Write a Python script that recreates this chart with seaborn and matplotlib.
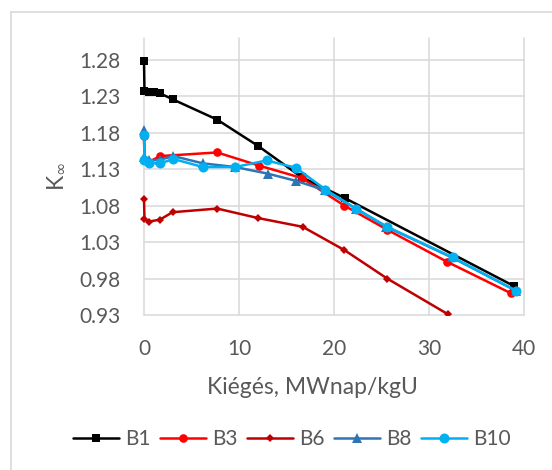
import matplotlib
matplotlib.use("Agg")
import matplotlib.pyplot as plt
from matplotlib.lines import Line2D
from matplotlib.patches import Rectangle
import seaborn as sns
import pandas as pd

# Burnup (MWnap/kgU) and infinite multiplication factor for each bundle type
b1_x = [0.0, 0.05, 0.5, 1.0, 1.7, 3.0, 7.7, 12.0, 16.6, 21.2, 38.9]
b1_y = [1.279, 1.237, 1.236, 1.236, 1.234, 1.226, 1.198, 1.162, 1.119, 1.090, 0.970]

b3_x = [0.0, 0.05, 0.5, 1.7, 7.7, 12.1, 16.6, 21.1, 25.6, 31.9, 38.6]
b3_y = [1.176, 1.143, 1.140, 1.148, 1.153, 1.135, 1.118, 1.080, 1.047, 1.003, 0.960]

b6_x = [0.0, 0.05, 0.5, 1.7, 3.0, 7.7, 12.0, 16.7, 21.1, 25.6, 32.0, 38.6]
b6_y = [1.089, 1.062, 1.058, 1.061, 1.071, 1.076, 1.063, 1.051, 1.019, 0.980, 0.931, 0.881]

b8_x = [0.0, 0.05, 0.5, 1.7, 3.1, 6.2, 9.6, 13.0, 16.0, 19.1, 22.3, 25.5, 32.4, 39.2]
b8_y = [1.184, 1.147, 1.142, 1.143, 1.148, 1.138, 1.133, 1.124, 1.114, 1.101, 1.076, 1.051, 1.009, 0.963]

b10_x = [0.0, 0.05, 0.5, 1.7, 3.1, 6.2, 9.6, 12.9, 16.0, 19.1, 22.3, 25.6, 32.5, 39.2]
b10_y = [1.177, 1.143, 1.139, 1.138, 1.144, 1.133, 1.133, 1.142, 1.132, 1.102, 1.076, 1.051, 1.009, 0.963]

series_names = ["B1", "B3", "B6", "B8", "B10"]
x_ticks = [0, 10, 20, 30, 40]
y_ticks = [0.93, 0.98, 1.03, 1.08, 1.13, 1.18, 1.23, 1.28]
y_tick_labels = ["0.93", "0.98", "1.03", "1.08", "1.13", "1.18", "1.23", "1.28"]

frames = []
for name, xs, ys in zip(series_names,
                        [b1_x, b3_x, b6_x, b8_x, b10_x],
                        [b1_y, b3_y, b6_y, b8_y, b10_y]):
    frames.append(pd.DataFrame({"series": name, "burnup": xs, "kinf": ys}))
data = pd.concat(frames, ignore_index=True)

styles = {
    "B1":  dict(color="#000000", marker="s", ms=6.2),
    "B3":  dict(color="#FF0000", marker="o", ms=6.2),
    "B6":  dict(color="#C00000", marker="D", ms=4.4),
    "B8":  dict(color="#2E75B6", marker="^", ms=6.8),
    "B10": dict(color="#00B0F0", marker="o", ms=7.2),
}

sns.set_style("white")
plt.rcParams["font.family"] = ["Lato", "DejaVu Sans"]

W, H = 552, 470
fig = plt.figure(figsize=(W / 100, H / 100), dpi=100)
ax = fig.add_axes([144 / W, 1 - 315 / H, 380 / W, 277 / H])

for name in series_names:
    st = styles[name]
    sub = data[data["series"] == name]
    sns.lineplot(data=sub, x="burnup", y="kinf", ax=ax, sort=False,
                 estimator=None, color=st["color"], marker=st["marker"],
                 markersize=st["ms"], markeredgewidth=0, linewidth=1.8,
                 label=name, zorder=3)

# let markers at the plot edges show in full; only the bottom cuts them off
clip_rect = Rectangle((-0.04, 0.0), 1.08, 1.08, transform=ax.transAxes,
                      facecolor="none", edgecolor="none")
ax.add_patch(clip_rect)
for ln in ax.get_lines():
    ln.set_clip_path(clip_rect)

ax.set_xlim(0, 40)
ax.set_ylim(0.93, 1.31)
ax.set_xticks(x_ticks)
ax.set_yticks(y_ticks)
ax.set_yticklabels(y_tick_labels)
ax.grid(True, color="#d9d9d9", linewidth=1.1)
for gl in ax.get_xgridlines() + ax.get_ygridlines():
    gl.set_clip_on(False)
    gl.set_zorder(0.5)
for sp in ax.spines.values():
    sp.set_visible(False)
ax.tick_params(length=0, labelsize=15, colors="#595959", pad=17)

ax.set_xlabel("Kiégés, MWnap/kgU", fontsize=16.5, color="#595959")
ax.set_ylabel("K$_{\\infty}$", fontsize=16.5, color="#595959")
ax.xaxis.set_label_coords(0.442, -0.225)
ax.yaxis.set_label_coords(-0.205, 0.5)

ax.get_legend().remove()
handles, labels = ax.get_legend_handles_labels()
fig.legend(handles, labels, loc="center", ncol=5, frameon=False,
           bbox_to_anchor=(292 / W, 1 - 439 / H), fontsize=15,
           handlelength=2.2, handletextpad=0.3, columnspacing=0.45,
           labelcolor="#595959")

# chart-area border
fig.add_artist(Line2D([11 / W, 11 / W], [0, 1 - 12 / H], transform=fig.transFigure,
                      color="#d9d9d9", linewidth=1.2))
fig.add_artist(Line2D([11 / W, 1], [1 - 12 / H, 1 - 12 / H], transform=fig.transFigure,
                      color="#d9d9d9", linewidth=1.2))

fig.savefig("out.png", dpi=100)
